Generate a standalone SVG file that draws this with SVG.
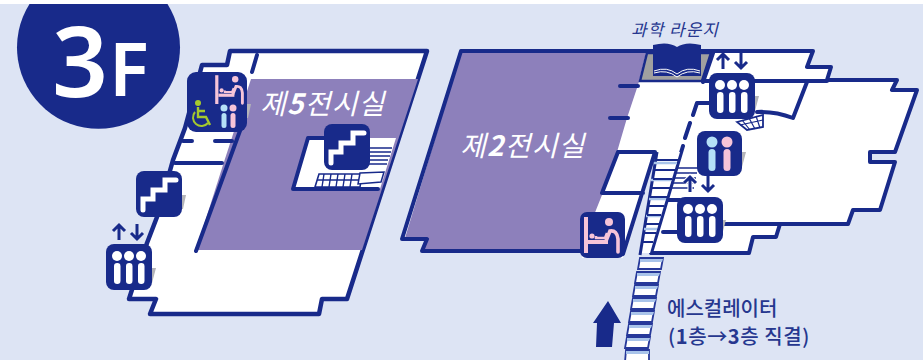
<svg xmlns="http://www.w3.org/2000/svg" xmlns:xlink="http://www.w3.org/1999/xlink" width="923" height="360" viewBox="0 0 923 360">
<style>
.wall{fill:#fff;stroke:#182a8a;stroke-width:4.500;stroke-linejoin:round;stroke-linecap:round}
.ln{fill:none;stroke:#182a8a;stroke-width:4;stroke-linecap:round;stroke-linejoin:round}
.thin{fill:none;stroke:#182a8a;stroke-width:2}
.tn{fill:#fff;stroke:none}
.room{fill:#8d80bb}
.sh{fill:#b4b4b8}
.ar{fill:none;stroke:#182a8a;stroke-width:3;stroke-linejoin:miter}
.lbl{font-family:"Noto Sans CJK KR","Noto Sans",sans-serif;fill:#fff;font-style:italic;font-size:28px;font-weight:400;letter-spacing:1.200px}
.nv{font-family:"Noto Sans CJK KR","Noto Sans",sans-serif;fill:#26378f;font-size:20px;font-weight:500}
.step{fill:#fff;stroke:#27399a;stroke-width:1.800}
.band{fill:#a9c4ea}
</style>
<defs>
<g id="elv"><rect width="46" height="46" rx="8" fill="#182a8a"/><g fill="#fff"><circle cx="11" cy="12" r="5"/><circle cx="23" cy="12" r="5"/><circle cx="35" cy="12" r="5"/><rect x="8" y="19" width="6.500" height="21" rx="3.200"/><rect x="20" y="19" width="6.500" height="21" rx="3.200"/><rect x="32" y="19" width="6.500" height="21" rx="3.200"/></g></g>
<g id="str"><rect width="46" height="46" rx="8" fill="#182a8a"/><path d="M7 39V28H17V19H29V9H40" fill="none" stroke="#fff" stroke-width="5" stroke-linecap="round"/></g>
<g id="baby"><g fill="#f6c4d8"><rect x="4" y="4" width="4" height="36"/><rect x="8" y="27" width="20" height="4"/><circle cx="12" cy="23" r="2.600"/><circle cx="29" cy="9" r="4"/></g><path d="M16 23V25H25L27 20" fill="none" stroke="#f6c4d8" stroke-width="2.500"/><path d="M26 28L30 18Q37 17 38 26V39" fill="none" stroke="#f6c4d8" stroke-width="3.600" stroke-linecap="round"/></g>
<g id="arr"><path d="M0 16V1M-6 7L0 1L6 7" class="ar"/><path d="M18 0V15M12 9L18 15L24 9" class="ar"/></g>
</defs>
<rect width="923" height="360" fill="#dde4f4"/>
<rect width="923" height="4" fill="#fff"/>

<g id="connectors">
<path class="wall" d="M230 51H427L347 299H322L319 314H150L156 299H129L147 243L157 217L173 160L185 128L202 65H227Z"/>
<path class="room" d="M251 79H418L362 250H196L223 165Z"/>
<path class="ln" d="M257 55L252 72M175 163H222M183 141H192M215 141H232M241 128L196 251"/>
<path class="tn" d="M308 138H396L380 189H293Z"/>
<path class="ln" stroke-width="3" d="M378 189H293L308 138H330"/>
<path d="M319 174H362L360 187H315Z" fill="#fff" stroke="#182a8a" stroke-width="1.600"/>
<path d="M317 180H361M324 174L322 187M331 174L329 187M338 174L336 187M345 174L343 187M352 174L350 187" stroke="#182a8a" stroke-width="1.400" fill="none"/>
<path d="M369 148H392M368 152H391M367 156H390M366 160H388M365 164H387" stroke="#182a8a" stroke-width="1.500" fill="none"/>
<path d="M360 173L384 172L381 182L358 184Z" fill="#fff" stroke="#182a8a" stroke-width="1.500"/>

<path class="tn" d="M461 51H813L807 67H831L827 80H897L892 90H917L895 152H870V162H895L880 210H853L848 224H780L776 237H753L749 253H623V258H582V251H422L427 239H402Z"/>
<path class="room" d="M461 53H646L638 85L627 118L617 152L602 195L580 250H424L428 238H405Z"/>
<path d="M647 53H711L702 81H640Z" fill="#a0a0a0" stroke="#182a8a" stroke-width="2.500"/>
<path d="M655 152H681L650 254H623Z" fill="#dde4f4"/>
<path class="ln" d="M582 251H422L427 239H402L461 51H813L807 67H831L827 80H897L892 90H917L895 152H870V162H895L880 210H853L848 224H780L776 237H753L749 253H652"/>
<path class="ln" d="M713 53L703 82M703 81H827M620 86H638M610 118H628M807 82L793 118Q775 111 757 112M618 152L602 193H643M618 152H655L623 254M693 115L697 103H710M690 123L685 138M683 146L651 253M663 232H677M667 200H680M723 224H780"/>
<path d="M737 122L763 115V127L747 130Z" fill="#fff" stroke="#182a8a" stroke-width="1.800"/>
<path d="M742 120L750 130M749 118L755 129M756 116L760 128M740 125L763 120" stroke="#182a8a" stroke-width="1.200" fill="none"/>
<path d="M673 168H698M673 173H697M672 178H696M671 183H695M670 188H694" stroke="#182a8a" stroke-width="1.500" fill="none"/>

<path class="tn" d="M657 152H680L650 253H640Z"/>
<path d="M657 152L640 255" fill="none" stroke="#182a8a" stroke-width="3"/>
<path d="M654 163H677M651 180H671M649 199H666M646 216H661M644 229H657" stroke="#a9c4ea" stroke-width="2.500"/>
<g class="thin"><path d="M656 160H678M654 170H675M653 179H672M651 188H670M650 197H667M648 206H664M647 215H661M645 224H659M644 233H656M642 242H653"/></g>

<g>
<polygon class="step" points="640,258 663,258 661,269 638,269"/><polygon class="band" points="640,259 663,259 662,262 640,262"/>
<polygon class="step" points="637,272 660,272 658,283 635,283"/><polygon class="band" points="637,273 660,273 659,276 637,276"/>
<polygon class="step" points="635,285 658,285 656,296 633,296"/><polygon class="band" points="635,286 658,286 657,289 635,289"/>
<polygon class="step" points="633,298 656,298 654,309 631,309"/><polygon class="band" points="633,299 656,299 655,302 633,302"/>
<polygon class="step" points="631,311 654,311 652,322 629,322"/><polygon class="band" points="631,312 654,312 653,315 631,315"/>
<polygon class="step" points="629,324 652,324 650,335 627,335"/><polygon class="band" points="629,325 652,325 651,328 629,328"/>
<polygon class="step" points="627,337 650,337 648,348 625,348"/><polygon class="band" points="627,338 650,338 649,341 627,341"/>
<polygon class="step" points="626,350 649,350 649,362 625,362"/><polygon class="band" points="626,351 649,351 649,354 626,354"/>
</g>
<path id="up-arrow" d="M608 301L621 323H614L612 347H596L597 323H593Z" fill="#182a8a"/>
</g>

<g id="floor-badge"><path d="M29.500 4H167.500A81.500 81.500 0 1 1 29.500 4Z" fill="#182a8a"/><text x="52" y="97" font-family="'Noto Sans',sans-serif" font-size="98" font-weight="600" fill="#fff">3</text><text x="109" y="96" font-family="'Noto Sans',sans-serif" font-size="74" font-weight="600" fill="#fff">F</text></g>

<g id="room-5"><text class="lbl" x="260" y="114">제<tspan font-weight="700">5</tspan>전시실</text></g>
<g id="room-2"><text class="lbl" x="460" y="156">제<tspan font-weight="700">2</tspan>전시실</text></g>

<g id="science-lounge">
<text x="631" y="36" font-family="'Noto Sans CJK KR',sans-serif" font-size="17" font-style="italic" letter-spacing="1" fill="#26378f">과학 라운지</text>
<path d="M653 45Q668 41 677 47Q686 41 701 45V76H653Z" fill="#182a8a"/>
<path d="M654 71Q667 66 677 74Q687 66 700 71M654 73Q667 69 677 77Q687 69 700 73" fill="none" stroke="#fff" stroke-width="1"/>
</g>

<g id="combo-wc">
<path class="sh" d="M247 104L251 104L248 118H245Z"/>
<rect x="187" y="72" width="60" height="60" rx="9" fill="#182a8a"/>
<use xlink:href="#baby" href="#baby" transform="translate(212 72) scale(.8)"/>
<circle cx="198" cy="103" r="3" fill="#a5c92d"/><path d="M198 107V117H206L210 125M198 111H205" fill="none" stroke="#a5c92d" stroke-width="2.400"/><path d="M195 112A8 8 0 1 0 208 123" fill="none" stroke="#a5c92d" stroke-width="2"/>
<circle cx="224" cy="108" r="3.500" fill="#b5e0f7"/><rect x="221.500" y="113" width="5" height="15" rx="2.500" fill="#b5e0f7"/>
<circle cx="233" cy="108" r="3.500" fill="#f6c4d8"/><rect x="230.500" y="113" width="5" height="15" rx="2.500" fill="#f6c4d8"/>
</g>

<g id="stairs-left"><path class="sh" d="M182 195H186L183 209H180Z"/><use xlink:href="#str" href="#str" x="136" y="171"/></g>
<g id="elevator-left"><use xlink:href="#arr" href="#arr" x="119" y="224"/><path class="sh" d="M152 268H156L152 283H150Z"/><use xlink:href="#elv" href="#elv" x="106" y="244"/></g>
<g id="stairs-centre"><use xlink:href="#str" href="#str" x="324" y="124"/></g>

<g id="baby-right"><rect x="580" y="212" width="45" height="46" rx="7" fill="#182a8a"/><use xlink:href="#baby" href="#baby" x="580" y="213"/></g>

<g id="elevator-top"><use xlink:href="#arr" href="#arr" x="723" y="53"/><path class="sh" d="M755 96H759L755 111H753Z"/><use xlink:href="#elv" href="#elv" x="709" y="73"/></g>
<g id="toilet"><path class="sh" d="M742 152H746L742 167H740Z"/><rect x="697" y="131" width="45" height="45" rx="8" fill="#182a8a"/>
<circle cx="712" cy="142" r="5.500" fill="#b5e0f7"/><rect x="708.500" y="149" width="7" height="22" rx="3.500" fill="#b5e0f7"/>
<circle cx="727" cy="142" r="5.500" fill="#f6c4d8"/><rect x="723.500" y="149" width="7" height="22" rx="3.500" fill="#f6c4d8"/></g>
<g id="elevator-mid">
<path d="M690 192V177M684 183L690 177L696 183M708 176V191M702 185L708 191L714 185" fill="none" stroke="#fff" stroke-width="5"/>
<use xlink:href="#arr" href="#arr" x="690" y="176"/><path class="sh" d="M722 220H726L722 235H720Z"/><use xlink:href="#elv" href="#elv" x="677" y="197"/></g>

<g id="escalator-label">
<text class="nv" x="667" y="316">에스컬레이터</text>
<text class="nv" x="668" y="344" letter-spacing=".6">(<tspan font-weight="700">1</tspan>층→<tspan font-weight="700">3</tspan>층 직결)</text>
</g>
</svg>
